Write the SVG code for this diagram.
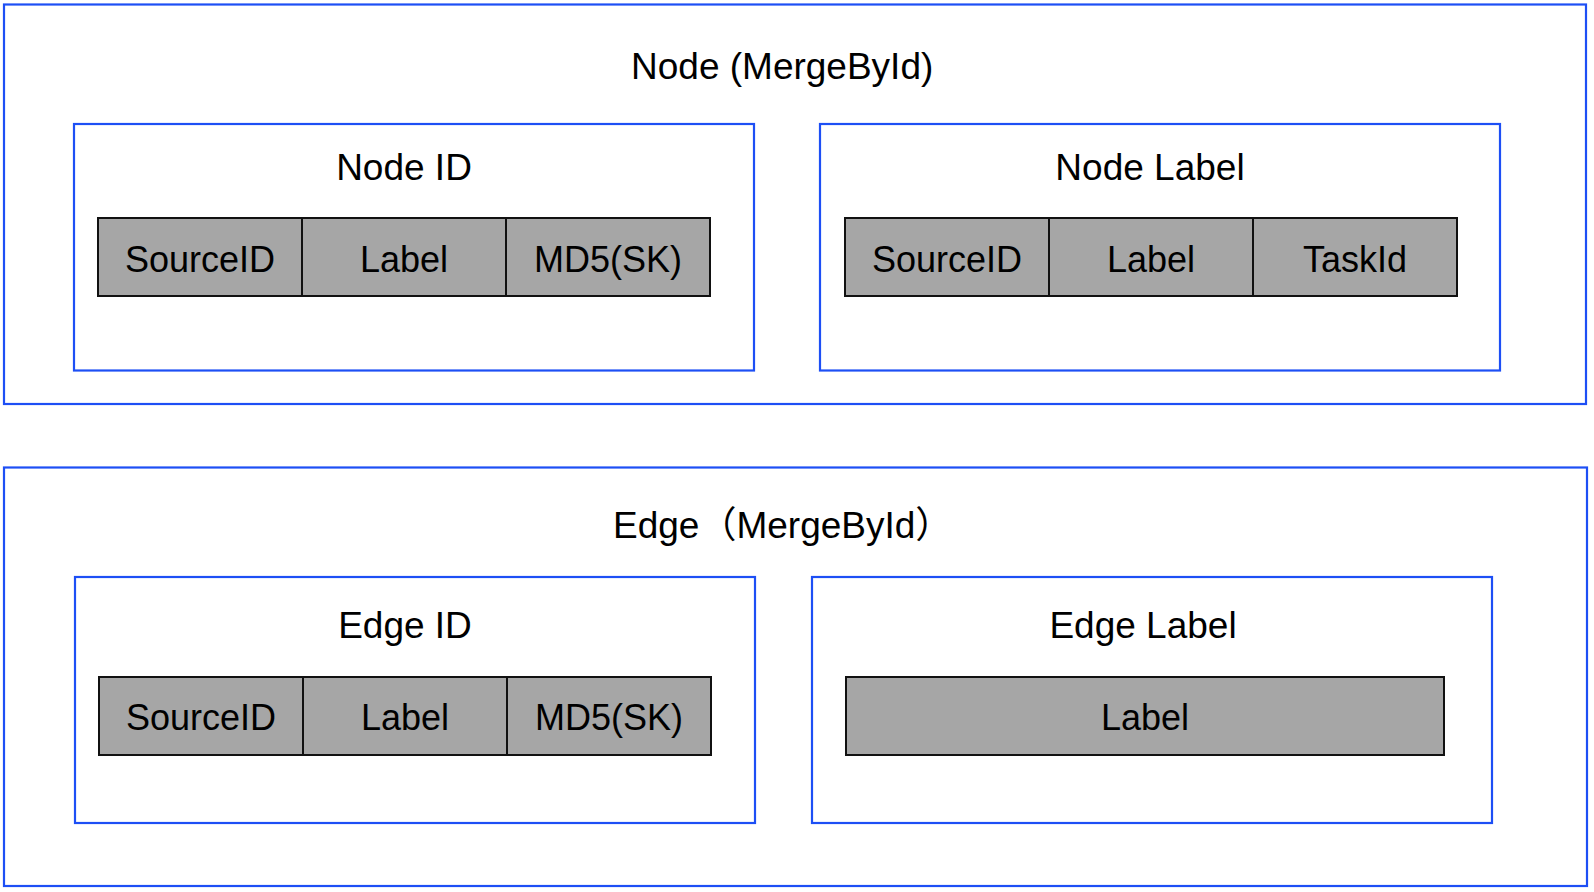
<svg xmlns="http://www.w3.org/2000/svg" width="1594" height="892" viewBox="0 0 1594 892">
<style>
.frame{fill:#ffffff;stroke:#1d4ff5;stroke-width:2.2}
.cell{fill:#a6a6a6;stroke:#111111;stroke-width:2}
.div{stroke:#111111;stroke-width:2}
.t{font-family:"Liberation Sans","Noto Sans CJK SC",Arial,sans-serif;font-size:36px;fill:#000000}
.h{font-size:37px}
.c{text-anchor:middle}
</style>
<rect width="1594" height="892" fill="#ffffff"/>
<g id="node-group">
  <rect class="frame" x="4" y="4.5" width="1582" height="399.5"/>
  <text class="t h" x="631" y="79">Node (MergeById)</text>
</g>
<g id="node-id">
  <rect class="frame" x="74" y="124" width="680" height="246.5"/>
  <text class="t h c" x="404" y="180">Node ID</text>
  <rect class="cell" x="98" y="218" width="612" height="78"/>
  <line class="div" x1="302" y1="218" x2="302" y2="296"/>
  <line class="div" x1="506" y1="218" x2="506" y2="296"/>
  <text class="t c" x="200" y="272">SourceID</text>
  <text class="t c" x="404" y="272">Label</text>
  <text class="t c" x="608" y="272">MD5(SK)</text>
</g>
<g id="node-label">
  <rect class="frame" x="820" y="124" width="680" height="246.5"/>
  <text class="t h c" x="1150" y="180">Node Label</text>
  <rect class="cell" x="845" y="218" width="612" height="78"/>
  <line class="div" x1="1049" y1="218" x2="1049" y2="296"/>
  <line class="div" x1="1253" y1="218" x2="1253" y2="296"/>
  <text class="t c" x="947" y="272">SourceID</text>
  <text class="t c" x="1151" y="272">Label</text>
  <text class="t c" x="1355" y="272">TaskId</text>
</g>
<g id="edge-group">
  <rect class="frame" x="4" y="467.5" width="1583" height="418.5"/>
  <text class="t h" x="613" y="538">Edge（MergeById）</text>
</g>
<g id="edge-id">
  <rect class="frame" x="75" y="577" width="680" height="246"/>
  <text class="t h c" x="405" y="638">Edge ID</text>
  <rect class="cell" x="99" y="677" width="612" height="78"/>
  <line class="div" x1="303" y1="677" x2="303" y2="755"/>
  <line class="div" x1="507" y1="677" x2="507" y2="755"/>
  <text class="t c" x="201" y="730">SourceID</text>
  <text class="t c" x="405" y="730">Label</text>
  <text class="t c" x="609" y="730">MD5(SK)</text>
</g>
<g id="edge-label">
  <rect class="frame" x="812" y="577" width="680" height="246"/>
  <text class="t h c" x="1143" y="638">Edge Label</text>
  <rect class="cell" x="846" y="677" width="598" height="78"/>
  <text class="t c" x="1145" y="730">Label</text>
</g>
<g id="connectors"></g>
</svg>
